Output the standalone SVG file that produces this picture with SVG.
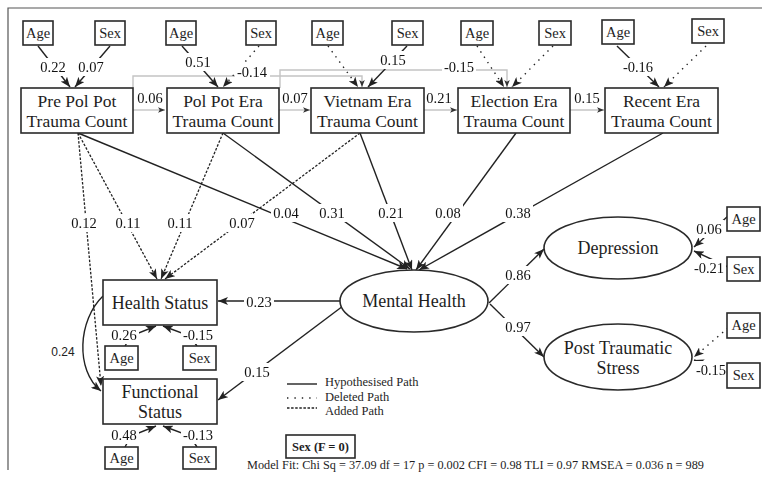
<svg xmlns="http://www.w3.org/2000/svg" width="762" height="479" viewBox="0 0 762 479" font-family="Liberation Serif, Times New Roman, serif">
<style>
text{font-family:"Liberation Serif","Times New Roman",serif;fill:#1e1e1e}
.box{fill:#fff;stroke:#2a2a2a;stroke-width:1.6}
.ell{fill:#fff;stroke:#2a2a2a;stroke-width:1.6}
.sm{font-size:14.5px;text-anchor:middle}
.nd{font-size:17.5px;text-anchor:middle}
.nd2{font-size:18px;text-anchor:middle}
.lbl{font-size:14.5px;text-anchor:middle;fill:#111}
.s{fill:none;stroke:#222;stroke-width:1.4}
.dot{fill:none;stroke:#222;stroke-width:1.4;stroke-dasharray:1.4 5}
.dsh{fill:none;stroke:#222;stroke-width:1.3;stroke-dasharray:2.5 1.6}
.gr{fill:none;stroke:#c4c4c4;stroke-width:1.4}
.leg{font-size:12.5px}
</style>
<defs>
<filter id="bg" x="-0.06" y="-0.05" width="1.12" height="1.1" color-interpolation-filters="sRGB">
<feFlood flood-color="#ffffff"/>
<feComposite in="SourceGraphic" operator="over"/>
</filter>
<marker id="ah" viewBox="0 0 10 8" refX="10" refY="4" markerWidth="10" markerHeight="8" markerUnits="userSpaceOnUse" orient="auto">
<path d="M0,0 L10,4 L0,8 L2.5,4 z" fill="#222"/>
</marker>
<marker id="ahs" viewBox="0 0 10 8" refX="10" refY="4" markerWidth="7" markerHeight="6" markerUnits="userSpaceOnUse" orient="auto">
<path d="M0,0 L10,4 L0,8 L2.5,4 z" fill="#333"/>
</marker>
</defs>

<path d="M8,470 L8,8 L762,8" fill="none" stroke="#555" stroke-width="1.2"/>

<g id="connectors">
<path class="gr" d="M133,110 L165,110" marker-end="url(#ahs)"/>
<path class="gr" d="M279,110 L310,110" marker-end="url(#ahs)"/>
<path class="gr" d="M424,110 L457,110" marker-end="url(#ahs)"/>
<path class="gr" d="M570,110 L604,110" marker-end="url(#ahs)"/>
<path class="gr" d="M133,88 L133,76 L362,76 L362,87" marker-end="url(#ahs)"/>
<path class="gr" d="M280,88 L280,70 L507,70 L507,87" marker-end="url(#ahs)"/>
<path class="s" d="M38,46 L70,87" marker-end="url(#ah)"/>
<path class="s" d="M110,46 L75,87" marker-end="url(#ah)"/>
<path class="s" d="M182,46 L218,87" marker-end="url(#ah)"/>
<path class="dot" d="M259,46 L223,87" marker-end="url(#ah)"/>
<path class="dot" d="M328,46 L358,87" marker-end="url(#ah)"/>
<path class="s" d="M407,46 L368,87" marker-end="url(#ah)"/>
<path class="dot" d="M477,46 L504,87" marker-end="url(#ah)"/>
<path class="dot" d="M553,46 L512,87" marker-end="url(#ah)"/>
<path class="s" d="M617,46 L659,87" marker-end="url(#ah)"/>
<path class="dot" d="M706,46 L664,87" marker-end="url(#ah)"/>
<path class="s" d="M78,133 L407,269" marker-end="url(#ah)"/>
<path class="s" d="M223,133 L410,269" marker-end="url(#ah)"/>
<path class="s" d="M360,133 L412,270" marker-end="url(#ah)"/>
<path class="s" d="M516,133 L416,270" marker-end="url(#ah)"/>
<path class="s" d="M663,133 L419,270" marker-end="url(#ah)"/>
<path class="dsh" d="M78,133 L157,279" marker-end="url(#ah)"/>
<path class="dsh" d="M223,133 L161,279" marker-end="url(#ah)"/>
<path class="dsh" d="M360,133 L165,279" marker-end="url(#ah)"/>
<path class="dsh" d="M78,133 L101,386" marker-end="url(#ah)"/>
<path class="s" d="M103,296 C78,320 75,370 101,391" marker-end="url(#ah)"/>
<path class="s" d="M340,301 L218,301" marker-end="url(#ah)"/>
<path class="s" d="M343,306 L218,400" marker-end="url(#ah)"/>
<path class="s" d="M489,303 L544,249" marker-end="url(#ah)"/>
<path class="s" d="M490,304 L544,357" marker-end="url(#ah)"/>
<path class="s" d="M728,216 L694,247" marker-end="url(#ah)"/>
<path class="s" d="M728,267 L694,251" marker-end="url(#ah)"/>
<path class="dot" d="M728,328 L694,357" marker-end="url(#ah)"/>
<path class="s" d="M728,372 L694,360" marker-end="url(#ah)"/>
<path class="s" d="M125,346 L131,336 L156,326" marker-end="url(#ah)"/>
<path class="s" d="M197,346 L190,336 L163,326" marker-end="url(#ah)"/>
<path class="s" d="M125,447 L131,436 L156,426" marker-end="url(#ah)"/>
<path class="s" d="M197,447 L190,436 L163,426" marker-end="url(#ah)"/>

<text class="lbl" x="53" y="72" filter="url(#bg)">0.22</text>
<text class="lbl" x="91" y="72" filter="url(#bg)">0.07</text>
<text class="lbl" x="198" y="67" filter="url(#bg)">0.51</text>
<text class="lbl" x="252" y="77" filter="url(#bg)">-0.14</text>
<text class="lbl" x="393" y="65" filter="url(#bg)">0.15</text>
<text class="lbl" x="459" y="72" filter="url(#bg)">-0.15</text>
<text class="lbl" x="638" y="72" filter="url(#bg)">-0.16</text>
<text class="lbl" x="150" y="103" filter="url(#bg)">0.06</text>
<text class="lbl" x="295" y="103" filter="url(#bg)">0.07</text>
<text class="lbl" x="439" y="103" filter="url(#bg)">0.21</text>
<text class="lbl" x="587" y="103" filter="url(#bg)">0.15</text>
<text class="lbl" x="84" y="228" filter="url(#bg)">0.12</text>
<text class="lbl" x="128" y="228" filter="url(#bg)">0.11</text>
<text class="lbl" x="180" y="228" filter="url(#bg)">0.11</text>
<text class="lbl" x="242" y="228" filter="url(#bg)">0.07</text>
<text class="lbl" x="286" y="218" filter="url(#bg)">0.04</text>
<text class="lbl" x="332" y="218" filter="url(#bg)">0.31</text>
<text class="lbl" x="391" y="218" filter="url(#bg)">0.21</text>
<text class="lbl" x="448" y="218" filter="url(#bg)">0.08</text>
<text class="lbl" x="518" y="218" filter="url(#bg)">0.38</text>
<text class="lbl" x="259" y="307" filter="url(#bg)">0.23</text>
<text class="lbl" x="257" y="377" filter="url(#bg)">0.15</text>
<text class="lbl" x="518" y="280" filter="url(#bg)">0.86</text>
<text class="lbl" x="518" y="332" filter="url(#bg)">0.97</text>
<text class="lbl" x="709" y="234" filter="url(#bg)">0.06</text>
<text class="lbl" x="709" y="273" filter="url(#bg)">-0.21</text>
<text class="lbl" x="711" y="375" filter="url(#bg)">-0.15</text>
<text class="lbl" x="124" y="340" filter="url(#bg)">0.26</text>
<text class="lbl" x="198" y="340" filter="url(#bg)">-0.15</text>
<text class="lbl" x="124" y="440" filter="url(#bg)">0.48</text>
<text class="lbl" x="198" y="440" filter="url(#bg)">-0.13</text>
<text x="63" y="356" style="font-family:'Liberation Sans',Arial,sans-serif;font-size:12px;text-anchor:middle;fill:#222">0.24</text>
</g>

<g id="age1"><rect class="box" x="23" y="21" width="30" height="24"/><text class="sm" x="38" y="38">Age</text></g>
<g id="sex1"><rect class="box" x="95" y="21" width="30" height="24"/><text class="sm" x="110" y="38">Sex</text></g>
<g id="age2"><rect class="box" x="166" y="21" width="30" height="24"/><text class="sm" x="181" y="38">Age</text></g>
<g id="sex2"><rect class="box" x="246" y="21" width="30" height="24"/><text class="sm" x="261" y="38">Sex</text></g>
<g id="age3"><rect class="box" x="312" y="21" width="31" height="24"/><text class="sm" x="327.5" y="38">Age</text></g>
<g id="sex3"><rect class="box" x="392" y="21" width="31" height="24"/><text class="sm" x="407.5" y="38">Sex</text></g>
<g id="age4"><rect class="box" x="461" y="21" width="32" height="24"/><text class="sm" x="477" y="38">Age</text></g>
<g id="sex4"><rect class="box" x="539" y="21" width="32" height="24"/><text class="sm" x="555" y="38">Sex</text></g>
<g id="age5"><rect class="box" x="602" y="20" width="32" height="24"/><text class="sm" x="618" y="37">Age</text></g>
<g id="sex5"><rect class="box" x="692" y="19" width="32" height="24"/><text class="sm" x="708" y="36">Sex</text></g>

<g id="prepolpot"><rect class="box" x="21" y="88" width="112" height="45"/><text class="nd" x="77" y="107">Pre Pol Pot</text><text class="nd" x="77" y="127">Trauma Count</text></g>
<g id="polpot"><rect class="box" x="167" y="88" width="112" height="45"/><text class="nd" x="223" y="107">Pol Pot Era</text><text class="nd" x="223" y="127">Trauma Count</text></g>
<g id="vietnam"><rect class="box" x="311" y="88" width="113" height="45"/><text class="nd" x="367.5" y="107">Vietnam Era</text><text class="nd" x="367.5" y="127">Trauma Count</text></g>
<g id="election"><rect class="box" x="458" y="88" width="112" height="45"/><text class="nd" x="514" y="107">Election Era</text><text class="nd" x="514" y="127">Trauma Count</text></g>
<g id="recent"><rect class="box" x="605" y="88" width="113" height="45"/><text class="nd" x="661.5" y="107">Recent Era</text><text class="nd" x="661.5" y="127">Trauma Count</text></g>

<g id="mentalhealth"><ellipse class="ell" cx="414" cy="301" rx="74" ry="31"/><text class="nd2" x="414" y="307">Mental Health</text></g>
<g id="depression"><ellipse class="ell" cx="618" cy="248" rx="74" ry="31"/><text class="nd2" x="618" y="254">Depression</text></g>
<g id="pts"><ellipse class="ell" cx="618" cy="357" rx="74" ry="33"/><text class="nd2" x="618" y="354">Post Traumatic</text><text class="nd2" x="618" y="374">Stress</text></g>

<g id="healthstatus"><rect class="box" x="103" y="280" width="114" height="45"/><text class="nd2" x="160" y="309">Health Status</text></g>
<g id="functionalstatus"><rect class="box" x="103" y="379" width="114" height="45"/><text class="nd2" x="160" y="398">Functional</text><text class="nd2" x="160" y="418">Status</text></g>

<g id="age-hs"><rect class="box" x="105" y="346" width="33" height="24"/><text class="sm" x="121.5" y="363">Age</text></g>
<g id="sex-hs"><rect class="box" x="183" y="346" width="33" height="24"/><text class="sm" x="199.5" y="363">Sex</text></g>
<g id="age-fs"><rect class="box" x="105" y="447" width="33" height="22"/><text class="sm" x="121.5" y="463">Age</text></g>
<g id="sex-fs"><rect class="box" x="183" y="447" width="33" height="22"/><text class="sm" x="199.5" y="463">Sex</text></g>

<g id="age-dep"><rect class="box" x="727" y="207" width="33" height="24"/><text class="sm" x="743.5" y="224">Age</text></g>
<g id="sex-dep"><rect class="box" x="727" y="257" width="33" height="24"/><text class="sm" x="743.5" y="274">Sex</text></g>
<g id="age-pts"><rect class="box" x="727" y="313" width="33" height="25"/><text class="sm" x="743.5" y="330">Age</text></g>
<g id="sex-pts"><rect class="box" x="727" y="363" width="33" height="25"/><text class="sm" x="743.5" y="380">Sex</text></g>

<g id="legend">
<path class="s" d="M287,384 L317,384"/>
<path class="dot" d="M287,398 L317,398" style="stroke-dasharray:1.4 6"/>
<path class="dsh" d="M287,408 L317,408"/>
<text class="leg" x="325" y="386">Hypothesised Path</text>
<text class="leg" x="325" y="401">Deleted Path</text>
<text class="leg" x="325" y="415">Added Path</text>
<rect class="box" x="286" y="435" width="69" height="23"/>
<text x="320.5" y="451" style="font-size:12.5px;font-weight:bold;text-anchor:middle">Sex (F = 0)</text>
<text x="247" y="469" style="font-size:12.5px" textLength="457" lengthAdjust="spacingAndGlyphs">Model Fit: Chi Sq = 37.09 df = 17 p = 0.002 CFI = 0.98 TLI = 0.97 RMSEA = 0.036 n = 989</text>
</g>
</svg>
